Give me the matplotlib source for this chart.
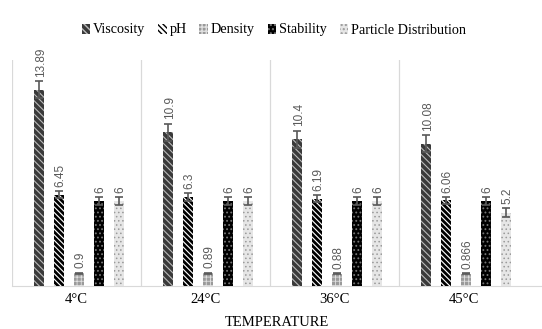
import numpy as np
import matplotlib
matplotlib.use('Agg')
import matplotlib.pyplot as plt
from matplotlib.patches import Patch

# data
temperatures = ['4°C', '24°C', '36°C', '45°C']
series_names = ['Viscosity', 'pH', 'Density', 'Stability', 'Particle Distribution']
viscosity = [13.89, 10.9, 10.4, 10.08]
ph = [6.45, 6.3, 6.19, 6.06]
density = [0.9, 0.89, 0.88, 0.866]
stability = [6, 6, 6, 6]
particle_dist = [6, 6, 6, 5.2]
labels_text = [['13.89', '10.9', '10.4', '10.08'],
               ['6.45', '6.3', '6.19', '6.06'],
               ['0.9', '0.89', '0.88', '0.866'],
               ['6', '6', '6', '6'],
               ['6', '6', '6', '5.2']]
errors = [0.6, 0.25, 0.05, 0.3, 0.3]

values = [viscosity, ph, density, stability, particle_dist]

# face, hatch colour, hatch pattern, hatch width
styles = [
    ('#3a3a3a', '#bbbbbb', '\\\\\\\\\\', 0.8),
    ('white', 'black', '\\\\\\\\\\\\', 2.0),
    ('#9a9a9a', '#e0e0e0', '++++', 0.6),
    ('black', '#777777', '....', 0.8),
    ('#e6e6e6', '#9a9a9a', '....', 0.6),
]

plt.rcParams['font.family'] = ['Liberation Serif', 'DejaVu Serif']

fig = plt.figure(figsize=(5.42, 3.29), dpi=100)
ax = fig.add_axes([12 / 542, 1 - 286 / 329, 529 / 542, (286 - 60) / 329])

x = np.arange(len(temperatures))
width = 0.078
step = 0.155

for i, (vals, (fc, hc, hatch, hw)) in enumerate(zip(values, styles)):
    pos = x + (i - 2) * step + 0.02
    bars = ax.bar(pos, vals, width, color=fc, edgecolor=hc, hatch=hatch,
                  linewidth=0, zorder=3)
    for b in bars:
        if hasattr(b, 'set_hatch_linewidth'):
            b.set_hatch_linewidth(hw)
    ax.errorbar(pos, vals, yerr=errors[i], fmt='none', ecolor='#595959',
                elinewidth=1.2, capsize=3, capthick=1.2, zorder=4)
    for p, v, t in zip(pos, vals, labels_text[i]):
        ax.text(p + 0.012, v + errors[i] + 0.3, t, rotation=90, ha='center', va='bottom',
                fontsize=8.5, color='#595959', family=['Liberation Sans', 'DejaVu Sans'])

# group separators
for s in [-0.5, 0.5, 1.5, 2.5]:
    ax.axvline(s, color='#d9d9d9', linewidth=0.9, zorder=1)

ax.set_xlim(-0.5, 3.6)
ax.set_ylim(0, 16)
ax.set_yticks([])
ax.set_xticks(x)
ax.set_xticklabels(temperatures, fontsize=10.5)
ax.tick_params(axis='x', length=0, pad=5)
for side in ['top', 'right', 'left']:
    ax.spines[side].set_visible(False)
ax.spines['bottom'].set_color('#d9d9d9')
ax.set_xlabel('TEMPERATURE', fontsize=10.5, labelpad=7)

handles = []
for name, (fc, hc, hatch, hw) in zip(series_names, styles):
    handles.append(Patch(facecolor=fc, edgecolor=hc, hatch=hatch, linewidth=0, label=name))
fig.legend(handles=handles, loc='center', bbox_to_anchor=(0.505, 1 - 30 / 329),
           ncol=5, frameon=False, fontsize=10.2, handlelength=0.6, handleheight=0.7,
           handletextpad=0.2, columnspacing=0.9)

fig.savefig('out.png', dpi=100)
